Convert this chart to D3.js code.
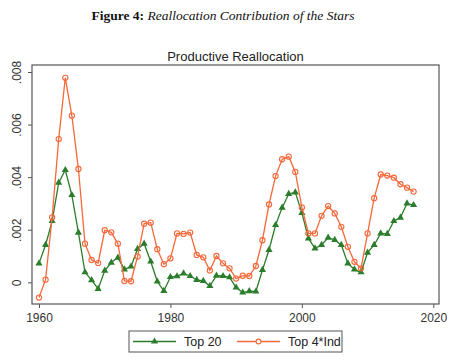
<!DOCTYPE html>
<html>
<head>
<meta charset="utf-8">
<script src="https://cdn.jsdelivr.net/npm/d3@7"></script>
<style>
  body { margin: 0; background: #fff; }
  svg { display: block; }
</style>
</head>
<body>
<div id="chart"></div>
<script>
////////////////////////////// DATA ////////////////////////////////////

const years = d3.range(1960, 2018);

const top20 = [
  0.00072, 0.00142, 0.00233, 0.00379, 0.00427, 0.00332, 0.00189, 0.00038, 0.00008, -0.00025,
  0.00044, 0.00075, 0.00094, 0.00049, 0.0006, 0.00127, 0.00147, 0.00079, 0.00003, -0.00033,
  0.0002, 0.00023, 0.00034, 0.00024, 0.00009, 0.00005, -0.00014, 0.00025, 0.00024, 0.00019,
  -0.0002, -0.00039, -0.00034, -0.00035, 0.00047, 0.00123, 0.00218, 0.00284, 0.00336, 0.00342,
  0.00264, 0.00167, 0.00129, 0.00142, 0.0017, 0.00161, 0.00142, 0.00072, 0.00049, 0.00038,
  0.00113, 0.00142, 0.00186, 0.00184, 0.00233, 0.00246, 0.003, 0.00294
];

const top4Ind = [
  -0.00058, 0.0001, 0.00247, 0.00545, 0.00778, 0.00634, 0.00431, 0.00147, 0.00085, 0.00073,
  0.00198, 0.0019, 0.00147, 0.00005, 0.00004, 0.00098, 0.00223, 0.00227, 0.00126, 0.00069,
  0.00091, 0.00186, 0.00184, 0.00189, 0.00104, 0.00095, 0.00045, 0.001, 0.00072, 0.00053,
  0.00014, 0.00025, 0.00024, 0.00062, 0.0016, 0.00296, 0.00404, 0.00468, 0.00478, 0.0042,
  0.00285, 0.00186, 0.00186, 0.00253, 0.0029, 0.00262, 0.00211, 0.00135, 0.00078, 0.00053,
  0.00186, 0.0032, 0.0041, 0.00406, 0.00398, 0.00373, 0.0036, 0.00345
];

const yTicks = [0, 0.002, 0.004, 0.006, 0.008];
const yTickLabels = ["0", ".002", ".004", ".006", ".008"];
const xTicks = [1960, 1980, 2000, 2020];

const seriesNames = ["Top 20", "Top 4*Ind"];
const green = "#2b7d2b";
const orange = "#f4683a";

////////////////////////////// SET UP ////////////////////////////////////

const width = 461;
const height = 364;
const box = { left: 32, right: 439, top: 65, bottom: 304 };

const svg = d3
  .select("#chart")
  .append("svg")
  .attr("width", width)
  .attr("height", height);

const x = d3.scaleLinear().domain([1960, 2020]).range([39, 433.3]);
const y = d3.scaleLinear().domain([0, 0.008]).range([282.3, 72]);

////////////////////////////// TITLES ////////////////////////////////////

const caption = svg
  .append("text")
  .attr("x", 223)
  .attr("y", 20)
  .attr("text-anchor", "middle")
  .style("font-family", "'Liberation Serif', 'Times New Roman', serif")
  .style("font-size", "13.5px")
  .style("fill", "#111");
caption.append("tspan").style("font-weight", "bold").text("Figure 4: ");
caption.append("tspan").style("font-style", "italic").text("Reallocation Contribution of the Stars");

svg
  .append("text")
  .attr("x", (box.left + box.right) / 2)
  .attr("y", 61)
  .attr("text-anchor", "middle")
  .style("font-family", "'Liberation Sans', Arial, sans-serif")
  .style("font-size", "13px")
  .style("fill", "#222")
  .text("Productive Reallocation");

////////////////////////////// PLOT BOX AND AXES ////////////////////////////////////

svg
  .append("rect")
  .attr("x", box.left)
  .attr("y", box.top)
  .attr("width", box.right - box.left)
  .attr("height", box.bottom - box.top)
  .style("fill", "none")
  .style("stroke", "#555")
  .style("stroke-width", 1.2);

const yAxis = svg
  .append("g")
  .attr("transform", `translate(${box.left},0)`)
  .call(d3.axisLeft(y).tickValues(yTicks).tickSize(4).tickFormat((d, i) => yTickLabels[i]));
yAxis.select(".domain").remove();
yAxis.selectAll(".tick line").style("stroke", "#555");
// rotated labels, reading bottom to top
yAxis
  .selectAll(".tick text")
  .attr("x", 0)
  .attr("y", 0)
  .attr("dy", null)
  .attr("text-anchor", "middle")
  .attr("transform", "translate(-11,0) rotate(-90)")
  .style("font-family", "'Liberation Sans', Arial, sans-serif")
  .style("font-size", "12px")
  .style("fill", "#333");

const xAxis = svg
  .append("g")
  .attr("transform", `translate(0,${box.bottom})`)
  .call(d3.axisBottom(x).tickValues(xTicks).tickSize(4).tickFormat(d3.format("d")));
xAxis.select(".domain").remove();
xAxis.selectAll(".tick line").style("stroke", "#555");
xAxis
  .selectAll(".tick text")
  .attr("y", 9)
  .style("font-family", "'Liberation Sans', Arial, sans-serif")
  .style("font-size", "12px")
  .style("fill", "#333");

////////////////////////////// LINES AND MARKERS ////////////////////////////////////

const line = d3
  .line()
  .x((d, i) => x(years[i]))
  .y((d) => y(d));

const triangle = d3.symbol().type(d3.symbolTriangle).size(22);

function drawSeries(values, color, marker) {
  svg
    .append("path")
    .datum(values)
    .attr("d", line)
    .style("fill", "none")
    .style("stroke", color)
    .style("stroke-width", 1.3);

  if (marker === "triangle") {
    svg
      .append("g")
      .selectAll("path")
      .data(values)
      .join("path")
      .attr("d", triangle)
      .attr("transform", (d, i) => `translate(${x(years[i])},${y(d)})`)
      .style("fill", color);
  } else {
    svg
      .append("g")
      .selectAll("circle")
      .data(values)
      .join("circle")
      .attr("cx", (d, i) => x(years[i]))
      .attr("cy", (d) => y(d))
      .attr("r", 2.6)
      .style("fill", "none")
      .style("stroke", color)
      .style("stroke-width", 1.1);
  }
}

drawSeries(top20, green, "triangle");
drawSeries(top4Ind, orange, "circle");

////////////////////////////// LEGEND ////////////////////////////////////

const legend = svg.append("g");
legend
  .append("rect")
  .attr("x", 129)
  .attr("y", 331)
  .attr("width", 213)
  .attr("height", 21)
  .style("fill", "#fff")
  .style("stroke", "#555")
  .style("stroke-width", 1);

const legendItems = [
  { name: seriesNames[0], color: green, marker: "triangle", x0: 133 },
  { name: seriesNames[1], color: orange, marker: "circle", x0: 237 }
];

legendItems.forEach((item) => {
  const cy = 341.5;
  legend
    .append("line")
    .attr("x1", item.x0)
    .attr("x2", item.x0 + 43)
    .attr("y1", cy)
    .attr("y2", cy)
    .style("stroke", item.color)
    .style("stroke-width", 1.3);
  if (item.marker === "triangle") {
    legend
      .append("path")
      .attr("d", triangle)
      .attr("transform", `translate(${item.x0 + 21.5},${cy})`)
      .style("fill", item.color);
  } else {
    legend
      .append("circle")
      .attr("cx", item.x0 + 21.5)
      .attr("cy", cy)
      .attr("r", 2.4)
      .style("fill", "#fff")
      .style("stroke", item.color)
      .style("stroke-width", 1.1);
  }
  legend
    .append("text")
    .attr("x", item.x0 + 51)
    .attr("y", cy + 4.5)
    .style("font-family", "'Liberation Sans', Arial, sans-serif")
    .style("font-size", "12.5px")
    .style("fill", "#222")
    .text(item.name);
});
</script>
</body>
</html>
